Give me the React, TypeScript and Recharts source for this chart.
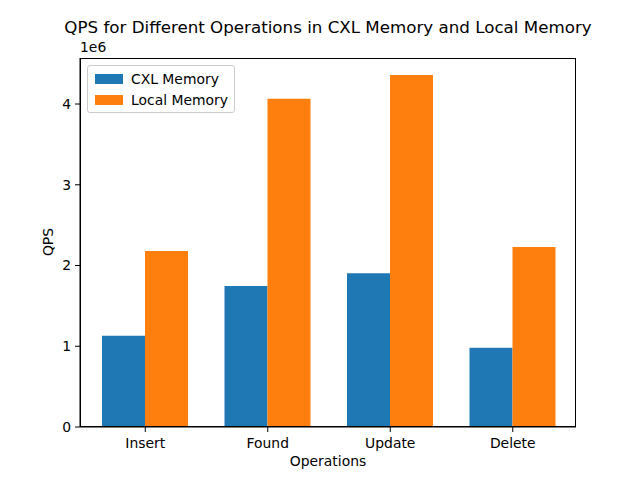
import React from 'react';
import { BarChart, Bar, XAxis, YAxis } from 'recharts';

const operations = ['Insert', 'Found', 'Update', 'Delete'];
const cxlQps = [1130000, 1745000, 1905000, 980000];
const localQps = [2180000, 4065000, 4360000, 2230000];
const yTicks = [0, 1000000, 2000000, 3000000, 4000000];

const data = operations.map((op, i) => ({
  op,
  cxl: cxlQps[i],
  local: localQps[i],
}));

const FONT = '"DejaVu Sans", sans-serif';
const BLUE = '#1f77b4';
const ORANGE = '#ff7f0e';

const LegendBox = () => (
  <div
    style={{
      position: 'absolute',
      left: 87,
      top: 65,
      border: '1px solid #cccccc',
      borderRadius: 3,
      background: 'rgba(255,255,255,0.8)',
      padding: '2px 6px 2px 7px',
      fontSize: 13.9,
      width: 133,
    }}
  >
    {[
      ['CXL Memory', BLUE],
      ['Local Memory', ORANGE],
    ].map(([name, color]) => (
      <div key={name} style={{ display: 'flex', alignItems: 'center', height: 21 }}>
        <span style={{ width: 28, height: 10, background: color, marginRight: 8, display: 'inline-block' }} />
        <span>{name}</span>
      </div>
    ))}
  </div>
);

export default function App() {
  return (
    <div style={{ position: 'absolute', left: 0, top: 0, width: 640, height: 480, background: '#fff', fontFamily: FONT }}>
      <BarChart
        width={640}
        height={480}
        data={data}
        margin={{ top: 58, right: 64, bottom: 23, left: 20 }}
        barGap={0}
        barSize={43}
      >
        <XAxis
          dataKey="op"
          padding={{ left: 4, right: 2 }}
          height={30}
          tickSize={5}
          tickMargin={6}
          stroke="#000"
          tick={{ fill: '#000', fontSize: 13.9, fontFamily: FONT }}
        />
        <YAxis
          domain={[0, 4570000]}
          ticks={yTicks}
          width={60}
          tickSize={5}
          tickMargin={4}
          stroke="#000"
          tickFormatter={(v: number) => String(v / 1000000)}
          tick={{ fill: '#000', fontSize: 13.9, fontFamily: FONT }}
        />
        <Bar dataKey="cxl" name="CXL Memory" fill={BLUE} isAnimationActive={false} />
        <Bar dataKey="local" name="Local Memory" fill={ORANGE} isAnimationActive={false} />
      </BarChart>
      <div
        style={{
          position: 'absolute', left: 80, top: 58, width: 496, height: 369,
          boxSizing: 'border-box', border: '1px solid #000', pointerEvents: 'none',
        }}
      />
      <LegendBox />
      <div
        style={{
          position: 'absolute', left: 0, width: 656, top: 17, textAlign: 'center',
          fontSize: 16.7, color: '#000',
        }}
      >
        QPS for Different Operations in CXL Memory and Local Memory
      </div>
      <div style={{ position: 'absolute', left: 80, top: 39, fontSize: 13.9 }}>1e6</div>
      <div style={{ position: 'absolute', left: 80, width: 496, top: 453, textAlign: 'center', fontSize: 13.9 }}>
        Operations
      </div>
      <div
        style={{
          position: 'absolute', left: 48, top: 242, fontSize: 13.9,
          transform: 'translate(-50%, -50%) rotate(-90deg)', whiteSpace: 'nowrap',
        }}
      >
        QPS
      </div>
    </div>
  );
}
